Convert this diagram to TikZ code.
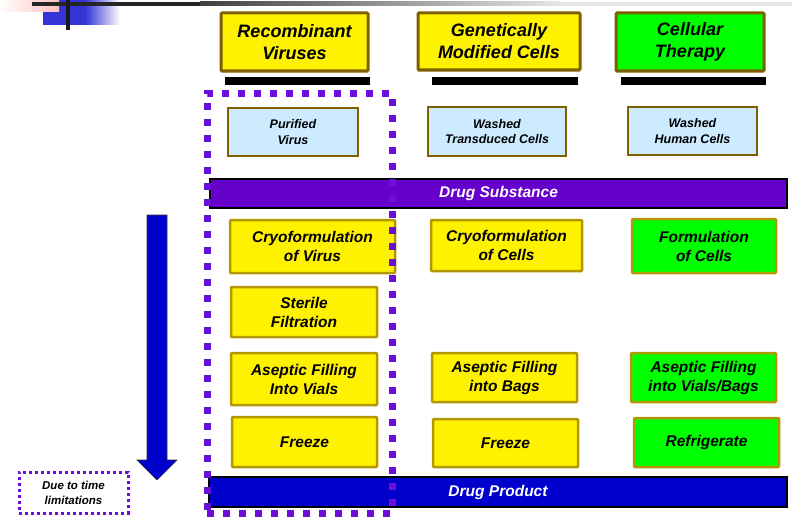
\documentclass[tikz,border=0pt]{standalone}
\usepackage{fontspec}
\setmainfont{Liberation Sans}
\usepackage{xcolor}
\usepackage{tikz}

\definecolor{hdrgold}{HTML}{7F6000}
\definecolor{boxgold}{HTML}{B39700}
\definecolor{cellblue}{HTML}{CCEBFF}
\definecolor{brightgreen}{HTML}{00FF00}
\definecolor{subpurple}{HTML}{6600CC}
\definecolor{prodblue}{HTML}{0000CC}
\definecolor{dotpurple}{HTML}{6A0FD6}

\begin{document}
\begin{tikzpicture}[
    x=1pt, y=-1pt,
    header/.style={rectangle, draw=hdrgold, line width=3pt, rounded corners=1pt, align=center, font=\fontsize{18}{22}\selectfont\bfseries\itshape},
    source/.style={rectangle, draw=hdrgold, line width=2.5pt, fill=cellblue, align=center, font=\fontsize{12.5}{15.5}\selectfont\bfseries\itshape},
    procbox/.style={rectangle, draw=boxgold, line width=2.5pt, rounded corners=1pt, fill=yellow, align=center, font=\fontsize{15.5}{19}\selectfont\bfseries\itshape},
    cellstep/.style={procbox, fill=brightgreen},
    stagebar/.style={rectangle, draw=black, line width=2.5pt, text=white, font=\fontsize{15.5}{19}\selectfont\bfseries\itshape},
    underbar/.style={rectangle, fill=black, inner sep=0pt, minimum height=8pt},
    dotframe/.style={rectangle, draw=dotpurple, line width=7pt, dash pattern=on 7pt off 9pt},
    notebox/.style={rectangle, draw=dotpurple, line width=3pt, dash pattern=on 3pt off 3pt, align=center, font=\fontsize{11.5}{15}\selectfont\bfseries\itshape}
]
\useasboundingbox (0,0) rectangle (792,519);

% Slide header ornament
\fill[blue!80!black!80] (43,0) rectangle (85,25);
\shade[left color=blue!80!black!80, right color=white] (85,0) rectangle (120,25);
\shade[left color=white, right color=red!25] (0,0) rectangle (59,12);
\fill[black!85] (32,2) rectangle (200,6);
\shade[left color=black!75, right color=black!10] (200,2) rectangle (560,6);
\fill[black!9] (560,2) rectangle (792,6);
\fill[black!90] (66,0) rectangle (70,30);

% Product classes
\node[header, fill=yellow, minimum width=147pt, minimum height=58pt] (viruses) at (294.5,42) {Recombinant\\Viruses};
\node[header, fill=yellow, minimum width=162pt, minimum height=57pt] (gmcells) at (499,41.5) {Genetically\\Modified Cells};
\node[header, fill=brightgreen, minimum width=148pt, minimum height=58pt] (therapy) at (690,42) {Cellular\\Therapy};

\node[underbar, minimum width=145pt] (rule-v) at (297.5,81) {};
\node[underbar, minimum width=146pt] (rule-g) at (505,81) {};
\node[underbar, minimum width=145pt] (rule-t) at (693.5,81) {};

% Starting material
\node[source, minimum width=130pt, minimum height=48pt] (virus) at (293,132) {Purified\\Virus};
\node[source, minimum width=138pt, minimum height=49pt] (transduced) at (497,131.5) {Washed\\Transduced Cells};
\node[source, minimum width=129pt, minimum height=48pt] (human) at (692.5,131) {Washed\\Human Cells};

\node[stagebar, fill=subpurple, minimum width=577pt, minimum height=29pt] (substance) at (498.5,193.5) {Drug Substance};

% Process steps
\node[procbox, minimum width=165pt, minimum height=53pt] (cryo-v) at (312.5,246.5) {Cryoformulation\\of Virus};
\node[procbox, minimum width=151pt, minimum height=51pt] (cryo-c) at (506.5,245.5) {Cryoformulation\\of Cells};
\node[cellstep, minimum width=144pt, minimum height=54pt] (form-c) at (704,246) {Formulation\\of Cells};

\node[procbox, minimum width=146pt, minimum height=50pt] (sterile) at (304,312) {Sterile\\Filtration};

\node[procbox, minimum width=146pt, minimum height=52pt] (fill-v) at (304,379) {Aseptic Filling\\Into Vials};
\node[procbox, minimum width=145pt, minimum height=49pt] (fill-b) at (504.5,377.5) {Aseptic Filling\\into Bags};
\node[cellstep, minimum width=145pt, minimum height=49pt] (fill-vb) at (703.5,377.5) {Aseptic Filling\\into Vials/Bags};

\node[procbox, minimum width=145pt, minimum height=50pt] (freeze-v) at (304.5,442) {Freeze};
\node[procbox, minimum width=145pt, minimum height=48pt] (freeze-c) at (505.5,443) {Freeze};
\node[cellstep, minimum width=145pt, minimum height=49pt] (cool) at (706.5,442.5) {Refrigerate};

\node[stagebar, fill=prodblue, minimum width=578pt, minimum height=30pt] (product) at (498,492) {Drug Product};

% Direction of the process
\filldraw[fill=prodblue, draw=black!80, line width=0.6pt]
    (147,215) -- (167,215) -- (167,460) -- (177,460) -- (157,480)
    -- (137,460) -- (147,460) -- cycle;

% Scope frame and its note
\node[dotframe, minimum width=185pt, minimum height=420pt] (scope) at (299.5,303) {};
\node[notebox, minimum width=109pt, minimum height=41pt] (note) at (73.5,492.5) {Due to time\\limitations};

\end{tikzpicture}
\end{document}
